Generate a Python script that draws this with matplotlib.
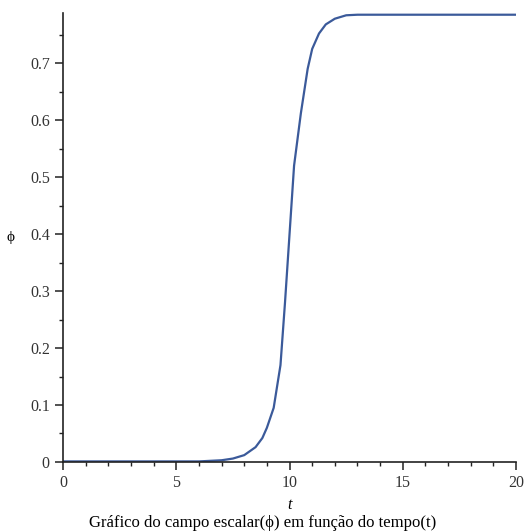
import matplotlib
matplotlib.use("Agg")
import matplotlib.pyplot as plt
from matplotlib.ticker import MultipleLocator

# values
t = [0, 5, 6, 7, 7.5, 8, 8.5, 8.8, 9, 9.3, 9.6, 9.8, 10, 10.2, 10.5,
     10.8, 11, 11.3, 11.6, 12, 12.5, 13, 15, 20]
phi = [0.001, 0.001, 0.001, 0.003, 0.006, 0.012, 0.026, 0.042, 0.06, 0.095,
       0.17, 0.28, 0.40, 0.52, 0.612, 0.69, 0.725, 0.752, 0.768, 0.778,
       0.784, 0.785, 0.785, 0.785]

xlabel = "t"
ylabel = "\u03d5"
caption = "Gráfico do campo escalar(\u03d5) em função do tempo(t)"

plt.rcParams['font.family'] = ['Liberation Serif', 'DejaVu Serif']

fig = plt.figure(figsize=(5.25, 5.31), dpi=100)
ax = fig.add_axes([0.12, 0.13, 0.863, 0.8455])

ax.plot(t, phi, color='#3b5a9a', lw=1.6)

ax.set_xlim(0, 20)
ax.set_ylim(0, 0.788)
ax.xaxis.set_major_locator(MultipleLocator(5))
ax.xaxis.set_minor_locator(MultipleLocator(1))
ax.yaxis.set_major_locator(MultipleLocator(0.1))
ax.yaxis.set_minor_locator(MultipleLocator(0.05))
ax.set_yticks([0, 0.1, 0.2, 0.3, 0.4, 0.5, 0.6, 0.7])
ax.set_yticklabels(['0', '0.1', '0.2', '0.3', '0.4', '0.5', '0.6', '0.7'])
ax.set_xticks([0, 5, 10, 15, 20])
ax.set_xticklabels(['0', '5', '10', '15', '20'])

for s in ['top', 'right']:
    ax.spines[s].set_visible(False)
for s in ['left', 'bottom']:
    ax.spines[s].set_linewidth(1.2)
    ax.spines[s].set_color('#222222')

ax.tick_params(which='major', length=6, width=1.1, labelsize=11.5,
               colors='#222222', labelcolor='#333333')
ax.tick_params(which='minor', length=3, width=1.0, colors='#222222')

ax.set_xlabel(xlabel, fontsize=11.5, fontstyle='italic', labelpad=4)
ax.set_ylabel(ylabel, fontsize=11, rotation=0, labelpad=14, va='center')
fig.text(0.5, 0.0, caption, ha='center', va='bottom', fontsize=12)

fig.savefig('out.png', dpi=100)
